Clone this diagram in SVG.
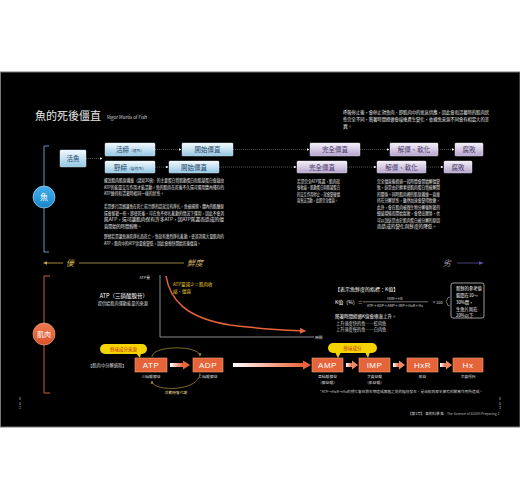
<svg xmlns="http://www.w3.org/2000/svg" width="520" height="500" viewBox="0 0 520 500">
<defs>
<style>
text{font-family:"Noto Sans CJK TC","Noto Sans",sans-serif}
.sm{font-size:4.2px;fill:#e8e8e8}
.bt{font-size:6.5px;fill:#24466a;text-anchor:middle}
.pt{font-size:6.5px;fill:#4a3a6a;text-anchor:middle}
.bs{font-size:3.8px}
.ob{fill:#e6643a;stroke:#f4a07a;stroke-width:0.6}
.ot{font-size:8px;fill:#ffffff;text-anchor:middle;font-family:"Liberation Sans",sans-serif;letter-spacing:0.5px}
.lb{font-size:3.8px;fill:#dddddd;text-anchor:middle}
.dash{stroke:#8a8a8a;stroke-width:0.6;stroke-dasharray:1 1;fill:none}
.yc{fill:#f3d400}
.yt{font-size:4.5px;fill:#c8301a;text-anchor:middle}
</style>
<linearGradient id="gb" x1="0" y1="0" x2="0" y2="1"><stop offset="0" stop-color="#f4fafd"/><stop offset="1" stop-color="#93c6e4"/></linearGradient>
<linearGradient id="gp" x1="0" y1="0" x2="0" y2="1"><stop offset="0" stop-color="#f5f0f9"/><stop offset="1" stop-color="#b6a4cd"/></linearGradient>
<linearGradient id="gs" x1="0" y1="0" x2="1" y2="0"><stop offset="0" stop-color="#c9aa4a"/><stop offset="0.55" stop-color="#9a8a6a"/><stop offset="1" stop-color="#5e4fa0"/></linearGradient>
<linearGradient id="ga" x1="0" y1="0" x2="1" y2="0"><stop offset="0" stop-color="#ffffff"/><stop offset="1" stop-color="#e8643a"/></linearGradient>
<linearGradient id="gc" x1="0" y1="0" x2="0" y2="1"><stop offset="0" stop-color="#44b0ee"/><stop offset="1" stop-color="#1a86c8"/></linearGradient>
<linearGradient id="go" x1="0" y1="0" x2="0" y2="1"><stop offset="0" stop-color="#f07a50"/><stop offset="1" stop-color="#d8522a"/></linearGradient>
<marker id="mw" viewBox="0 0 6 6" refX="5" refY="3" markerWidth="4" markerHeight="4" orient="auto"><path d="M0,0 L6,3 L0,6 Z" fill="#ffffff"/></marker>
<marker id="mo" viewBox="0 0 6 6" refX="5" refY="3" markerWidth="4" markerHeight="4" orient="auto"><path d="M0,0 L6,3 L0,6 Z" fill="#e8643a"/></marker>
<marker id="mg" viewBox="0 0 6 6" refX="5" refY="3" markerWidth="4" markerHeight="4" orient="auto"><path d="M0,0 L6,3 L0,6 Z" fill="#9a8436"/></marker>
</defs>

<rect x="0" y="0" width="520" height="500" fill="#ffffff"/>
<rect x="0.5" y="72" width="519.5" height="355" fill="#000000" stroke="#777777" stroke-width="1"/>

<!-- Title -->
<text x="35" y="120" font-size="11" fill="#e8e8e8">魚的死後僵直</text>
<text x="107" y="118.5" font-size="4.5" fill="#dddddd" font-family="Liberation Serif,serif">Rigor Mortis of Fish</text>
<g class="sm" style="font-size:4.8px">
<text x="343" y="114" textLength="146" lengthAdjust="spacingAndGlyphs">呼吸停止後，會停止對魚肉、即肌肉中的氧氣供應，因此會和活著時的肌肉狀</text>
<text x="343" y="121" textLength="146" lengthAdjust="spacingAndGlyphs">態完全不同，隨著時間經過會接連產生變化，依據魚來源不同會有相當大的差</text>
<text x="343" y="128">異。</text>
</g>

<!-- Brackets and circles -->
<g id="fish-bracket">
<path d="M49,146 H44 V252 H49" fill="none" stroke="#5b9cc6" stroke-width="1"/>
<circle cx="44" cy="197" r="11" fill="url(#gc)" stroke="#bfe3f7" stroke-width="0.6"/>
<text x="44" y="200" font-size="8" fill="#ffffff" text-anchor="middle">魚</text>
</g>
<g id="muscle-bracket">
<path d="M50,276 H44 V393 H50" fill="none" stroke="#c8603a" stroke-width="1"/>
<circle cx="44" cy="334" r="11" fill="url(#go)" stroke="#f6b090" stroke-width="0.6"/>
<text x="44" y="337" font-size="7" fill="#ffffff" text-anchor="middle">肌肉</text>
</g>

<!-- Connectors -->
<g id="connectors">
<line class="dash" x1="86" y1="158.5" x2="102" y2="158.5" marker-end="url(#mw)"/>
<line class="dash" x1="155" y1="149.5" x2="181" y2="149.5" marker-end="url(#mw)"/>
<line class="dash" x1="233" y1="149.5" x2="309" y2="149.5" marker-end="url(#mw)"/>
<line class="dash" x1="360" y1="149.5" x2="389" y2="149.5" marker-end="url(#mw)"/>
<line class="dash" x1="438" y1="149.5" x2="454" y2="149.5" marker-end="url(#mw)"/>
<line class="dash" x1="155" y1="167" x2="168" y2="167" marker-end="url(#mw)"/>
<line class="dash" x1="219" y1="167" x2="296" y2="167" marker-end="url(#mw)"/>
<line class="dash" x1="347" y1="167" x2="376" y2="167" marker-end="url(#mw)"/>
<line class="dash" x1="426" y1="167" x2="443" y2="167" marker-end="url(#mw)"/>
<!-- freshness scale -->
<line x1="63" y1="263" x2="46" y2="263" stroke="#c9aa4a" stroke-width="0.8"/>
<path d="M43,263 L47,261.2 L47,264.8 Z" fill="#c9aa4a"/>
<line x1="79" y1="263" x2="184" y2="263" stroke="#b9a050" stroke-width="0.8"/>
<line x1="213" y1="263" x2="438" y2="263" stroke="url(#gs)" stroke-width="0.8"/>
<line x1="457" y1="263" x2="480" y2="263" stroke="#5e4fa0" stroke-width="0.8"/>
<path d="M484,263 L479,261.2 L479,264.8 Z" fill="#5e4fa0"/>
<!-- ATP/ADP cycle -->
<path d="M152,357 C152,345 200,345 200,356" fill="none" stroke="#9a8436" stroke-width="0.8" marker-end="url(#mg)"/>
<path d="M200,373 C200,392 152,392 152,381" fill="none" stroke="#9a8436" stroke-width="0.8" marker-end="url(#mg)"/>
<!-- decomposition arrows -->
<rect x="170" y="363" width="13" height="4" fill="url(#ga)"/>
<path d="M183,360.5 L190,365 L183,369.5 Z" fill="#e8643a"/>
<rect x="233" y="363" width="70" height="4" fill="url(#ga)"/>
<path d="M303,360.5 L311,365 L303,369.5 Z" fill="#e8643a"/>
<rect x="346" y="363" width="6" height="4" fill="url(#ga)"/>
<path d="M352,360.5 L358,365 L352,369.5 Z" fill="#ee8a66"/>
<rect x="393" y="363" width="6" height="4" fill="url(#ga)"/>
<path d="M399,360.5 L405,365 L399,369.5 Z" fill="#ee8a66"/>
<rect x="440" y="363" width="6" height="4" fill="url(#ga)"/>
<path d="M446,360.5 L452,365 L446,369.5 Z" fill="#ee8a66"/>
</g>

<!-- Flow nodes -->
<g id="n-live"><rect x="60" y="150" width="26" height="17" rx="1" fill="url(#gb)" stroke="#dff0fa" stroke-width="0.4"/><text class="bt" x="73" y="161">活魚</text></g>
<g id="n-ikejime"><rect x="105" y="143" width="50" height="13" rx="1" fill="url(#gb)" stroke="#dff0fa" stroke-width="0.4"/><text class="bt" x="130" y="152">活締<tspan class="bs">（速死）</tspan></text></g>
<g id="n-start1"><rect x="182" y="143" width="51" height="13" rx="1" fill="url(#gb)" stroke="#dff0fa" stroke-width="0.4"/><text class="bt" x="207.5" y="152">開始僵直</text></g>
<g id="n-full1"><rect x="310" y="143" width="50" height="13" rx="1" fill="url(#gp)" stroke="#f0e8f6" stroke-width="0.4"/><text class="pt" x="335" y="152">完全僵直</text></g>
<g id="n-soft1"><rect x="390" y="143" width="48" height="13" rx="1" fill="url(#gp)" stroke="#f0e8f6" stroke-width="0.4"/><text class="pt" x="414" y="152">解僵、軟化</text></g>
<g id="n-rot1"><rect x="455" y="143" width="28" height="13" rx="1" fill="url(#gp)" stroke="#f0e8f6" stroke-width="0.4"/><text class="pt" x="469" y="152">腐敗</text></g>
<g id="n-nojime"><rect x="105" y="161" width="50" height="12" rx="1" fill="url(#gb)" stroke="#dff0fa" stroke-width="0.4"/><text class="bt" x="130" y="169.5">野締<tspan class="bs">（自然死）</tspan></text></g>
<g id="n-start2"><rect x="169" y="161" width="50" height="12" rx="1" fill="url(#gb)" stroke="#dff0fa" stroke-width="0.4"/><text class="bt" x="194" y="169.5">開始僵直</text></g>
<g id="n-full2"><rect x="297" y="161" width="50" height="12" rx="1" fill="url(#gp)" stroke="#f0e8f6" stroke-width="0.4"/><text class="pt" x="322" y="169.5">完全僵直</text></g>
<g id="n-soft2"><rect x="377" y="161" width="49" height="12" rx="1" fill="url(#gp)" stroke="#f0e8f6" stroke-width="0.4"/><text class="pt" x="401.5" y="169.5">解僵、軟化</text></g>
<g id="n-rot2"><rect x="444" y="161" width="28" height="12" rx="1" fill="url(#gp)" stroke="#f0e8f6" stroke-width="0.4"/><text class="pt" x="458" y="169.5">腐敗</text></g>

<!-- Paragraphs -->
<g class="sm">
<text x="104" y="182" textLength="120" lengthAdjust="spacingAndGlyphs">據說肌肉肌原纖維（請見30頁）的主要蛋白質肌動蛋白和肌凝蛋白會藉由</text>
<text x="104" y="188.5" textLength="120" lengthAdjust="spacingAndGlyphs">ATP的能量交互作用才能活動。魚的肌肉在死後不久還可運用體內殘存的</text>
<text x="104" y="195" textLength="60" lengthAdjust="spacingAndGlyphs">ATP維持和活著時相同一樣的狀態。</text>
<text x="104" y="208" textLength="120" lengthAdjust="spacingAndGlyphs">若是進行活締讓魚在死亡前冷靜的話就沒有掙扎，魚被捕撈，體內的肌醣原</text>
<text x="104" y="214.5" textLength="120" lengthAdjust="spacingAndGlyphs">還會留著一些，即使死後，可在魚不停扎亂動的情況下運用，因此不會消</text>
<text x="104" y="221" textLength="120" lengthAdjust="spacingAndGlyphs">耗ATP，還可讓肌肉保有許多ATP，因ATP耗盡而造成的僵</text>
<text x="104" y="227.5">直開始的時間較晚。</text>
<text x="104" y="238" textLength="120" lengthAdjust="spacingAndGlyphs">野締若是讓魚瀕死掙扎而死亡，魚就有激烈掙扎亂動，使其消耗大量肌肉的</text>
<text x="104" y="244.5" textLength="97" lengthAdjust="spacingAndGlyphs">ATP，肌肉中的ATP含量會變低，因此會較快開始死後僵直。</text>
<text x="297" y="182.5" textLength="43" lengthAdjust="spacingAndGlyphs">若是完全ATP耗盡，肌肉就</text>
<text x="297" y="189" textLength="43" lengthAdjust="spacingAndGlyphs">會收縮，肌動蛋白與肌凝蛋白</text>
<text x="297" y="195.5" textLength="43" lengthAdjust="spacingAndGlyphs">的交互作用停止，就會變硬僵</text>
<text x="297" y="202" textLength="41" lengthAdjust="spacingAndGlyphs">直無法活動，此即完全僵直。</text>
<text x="377" y="182.5" textLength="63" lengthAdjust="spacingAndGlyphs">完全僵直後經過一段時間會開始解僵變</text>
<text x="377" y="189" textLength="63" lengthAdjust="spacingAndGlyphs">軟，這是由於酵素使肌肉蛋白質被解開</text>
<text x="377" y="195.5" textLength="63" lengthAdjust="spacingAndGlyphs">的關係。同時肌肉裡的肌原纖維一直維</text>
<text x="377" y="202" textLength="63" lengthAdjust="spacingAndGlyphs">持在分解狀態，雖然加速會變得軟嫩，</text>
<text x="377" y="208.5" textLength="63" lengthAdjust="spacingAndGlyphs">此外，會在肌肉被微生物分解後附著的</text>
<text x="377" y="215" textLength="63" lengthAdjust="spacingAndGlyphs">細菌增殖而開始腐敗，會發出腥臭，也</text>
<text x="377" y="221.5" textLength="63" lengthAdjust="spacingAndGlyphs">可以說這是由於肌肉蛋白被分解的原因</text>
<text x="377" y="228" textLength="60" lengthAdjust="spacingAndGlyphs">而造成的變化與鮮度的降低。</text>
</g>

<!-- Freshness scale labels -->
<text x="66" y="266" font-size="8" fill="#c9aa4a" font-style="italic">優</text>
<text x="187" y="266" font-size="8" fill="#c2a860" font-style="italic">鮮度</text>
<text x="443" y="266" font-size="8" fill="#a8a0b8" font-style="italic">劣</text>

<!-- ATP graph -->
<g id="atp-graph">
<text x="150" y="278.5" font-size="3.8" fill="#dddddd" text-anchor="end">ATP量</text>
<path d="M160,275 V337 H314" fill="none" stroke="#9a9a9a" stroke-width="0.9"/>
<text x="315" y="338.5" font-size="3.8" fill="#dddddd">時間</text>
<path d="M166,276 C170,300 186,318 230,325 C260,329 285,330 305,331" fill="none" stroke="#e8643a" stroke-width="1.5" marker-end="url(#mo)"/>
<text x="173" y="286" font-size="4.5" fill="#f0d22a">ATP量減少＝肌肉收</text>
<text x="173" y="293" font-size="4.5" fill="#f0d22a">縮、僵直</text>
<text x="148" y="297.5" font-size="5.5" fill="#ffffff" text-anchor="end">ATP（三磷酸腺苷）</text>
<text x="148" y="305" font-size="4.2" fill="#dddddd" text-anchor="end">提供給肌肉運動能量的來源</text>
</g>

<!-- K value -->
<g id="k-value">
<text x="335" y="291" font-size="5" fill="#ffffff">【表示魚鮮度的指標：K值】</text>
<text x="335" y="303.5" font-size="5" fill="#ffffff">K值（%）＝</text>
<text x="395" y="300" font-size="3.8" fill="#dddddd" text-anchor="middle">HxR＋Hx</text>
<line x1="363" y1="301.8" x2="428" y2="301.8" stroke="#dddddd" stroke-width="0.5"/>
<text x="395" y="306.5" font-size="3.6" fill="#dddddd" text-anchor="middle">ATP＋ADP＋AMP＋IMP＋HxR＋Hx</text>
<text x="432" y="303.5" font-size="4" fill="#dddddd">×100</text>
<path d="M450,297 Q447,297 447,300 L446,301.5 L447,303 Q447,306 450,306" fill="none" stroke="#dddddd" stroke-width="0.5"/>
<rect x="451" y="283" width="33" height="35" rx="2" fill="none" stroke="#dddddd" stroke-width="0.7"/>
<text x="456" y="290" font-size="4.3" fill="#ffffff">新鮮的參考值</text>
<text x="456" y="297" font-size="4.3" fill="#ffffff">範圍在10～</text>
<text x="456" y="304" font-size="4.3" fill="#ffffff">30%間，</text>
<text x="456" y="311" font-size="4.3" fill="#ffffff">生魚片則在</text>
<text x="456" y="317" font-size="4.3" fill="#ffffff">20%以下</text>
<text x="335" y="318" font-size="4.5" fill="#ffffff">隨著時間經過K值會逐漸上升。</text>
<text x="336" y="325" font-size="4.2" fill="#dddddd">上升速度快的魚……紅肉魚</text>
<text x="336" y="331" font-size="4.2" fill="#dddddd">上升速度慢的魚……白肉魚</text>
</g>

<!-- Decomposition nodes -->
<text x="88" y="366.5" font-size="4.3" fill="#dddddd">【肌肉中分解過程】</text>
<g id="c-source">
<rect class="yc" x="100" y="344" width="47" height="10" rx="5"/>
<path d="M136,353 L140,358 L141,353 Z" class="yc"/>
<text class="yt" x="123.5" y="350.7">鮮味成分來源</text>
</g>
<g id="c-umami">
<rect class="yc" x="328" y="343" width="49" height="10" rx="5"/>
<path d="M335,352 L338,358 L341,352 Z" class="yc"/>
<path d="M365,352 L368,358 L370,352 Z" class="yc"/>
<text class="yt" x="352.5" y="349.8">鮮味成分</text>
</g>
<g id="n-atp"><rect class="ob" x="135" y="358" width="32" height="14"/><text class="ot" x="151" y="368">ATP</text><text class="lb" x="151" y="378">三磷酸腺苷</text></g>
<g id="n-adp"><rect class="ob" x="193" y="358" width="30" height="14"/><text class="ot" x="208" y="368">ADP</text><text class="lb" x="208" y="378">二磷酸腺苷</text></g>
<text class="lb" x="176" y="393.5" style="fill:#e8d890">活動時會代謝</text>
<g id="n-amp"><rect class="ob" x="312" y="358" width="31" height="14"/><text class="ot" x="327.5" y="368">AMP</text><text class="lb" x="327.5" y="378">單磷酸腺苷</text><text class="lb" x="327.5" y="384">（腺苷酸）</text></g>
<g id="n-imp"><rect class="ob" x="359" y="358" width="31" height="14"/><text class="ot" x="374.5" y="368">IMP</text><text class="lb" x="374.5" y="378">次黃苷酸</text><text class="lb" x="374.5" y="384">（肌苷酸）</text></g>
<g id="n-hxr"><rect class="ob" x="407" y="358" width="31" height="14"/><text class="ot" x="422.5" y="368">HxR</text><text class="lb" x="422.5" y="378">肌苷</text></g>
<g id="n-hx"><rect class="ob" x="453" y="358" width="30" height="14"/><text class="ot" x="468" y="368">Hx</text><text class="lb" x="468" y="378">次黃嘌呤</text></g>

<text x="320" y="392.5" font-size="3.6" fill="#cccccc" textLength="163" lengthAdjust="spacingAndGlyphs">*ATP→HxR→Hx的變化會在微生物造成腐敗之前的階段發生，是由肌肉原本擁有的酵素作用所造成。</text>

<!-- Footer -->
<text x="408" y="415" font-size="3.6" fill="#dddddd">【第1章】 魚的科學 魚</text>
<text x="447" y="415" font-size="3.4" fill="#bbbbbb" font-family="Liberation Serif,serif">The Science of SUSHI Preparing 1</text>
<g font-size="3.6" fill="#bbbbbb" text-anchor="middle">
<text x="20" y="400">0</text><text x="20" y="404.5">5</text><text x="20" y="409">2</text>
<text x="500" y="400">0</text><text x="500" y="404.5">5</text><text x="500" y="409">3</text>
</g>
</svg>
